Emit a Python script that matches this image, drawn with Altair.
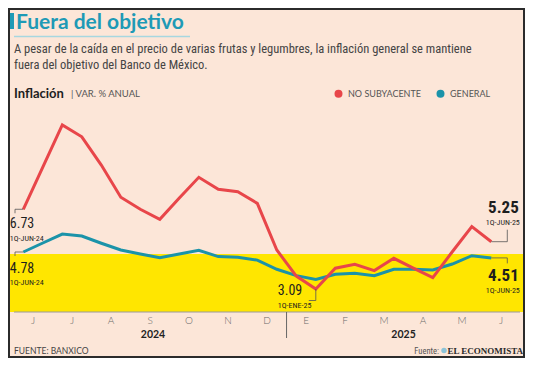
import altair as alt
import pandas as pd

# ---------------- data ----------------
idx = list(range(25))  # quincenas: 1Q-Jun-24 ... 1Q-Jun-25
no_subyacente = [6.73, 8.66, 10.58, 10.04, 8.75, 7.28, 6.73, 6.27, 7.25, 8.19, 7.64, 7.53,
                 7.00, 4.87, 3.68, 3.09, 4.04, 4.22, 3.93, 4.49, 4.04, 3.61, 4.79, 5.94, 5.25]
general = [4.78, 5.19, 5.60, 5.51, 5.18, 4.87, 4.69, 4.52, 4.69, 4.86, 4.57, 4.54,
           4.41, 3.99, 3.70, 3.53, 3.76, 3.81, 3.70, 3.99, 3.99, 3.96, 4.23, 4.61, 4.51]
series_names = ["NO SUBYACENTE", "GENERAL"]
series_colors = ["#E8464A", "#1B93A9"]
month_letters = ["J", "J", "A", "S", "O", "N", "D", "E", "F", "M", "A", "M", "J"]
month_pos = [0.5 + 2 * k for k in range(13)]
years = ["2024", "2025"]
year_pos = [6.65, 19.5]
year_split = 13.5
target_band = [2.04, 4.69]

# ---------------- layout ----------------
W, H = 517, 304
xs = alt.Scale(domain=[-0.785, 25.728], nice=False, zero=False)
ys = alt.Scale(domain=[2.04, 15.92], nice=False, zero=False)
NARROW = "Liberation Sans Narrow, Roboto Condensed, DejaVu Sans Condensed, sans-serif"
SANS = "Lato, sans-serif"
BG = "#FCE6D8"

lines_df = pd.DataFrame({
    "i": idx * 2,
    "v": no_subyacente + general,
    "serie": [series_names[0]] * len(idx) + [series_names[1]] * len(idx),
})

color_enc = alt.Color(
    "serie:N",
    scale=alt.Scale(domain=series_names, range=series_colors),
    legend=alt.Legend(
        orient="none", legendX=326, legendY=81, direction="horizontal", title=None,
        symbolType="circle", symbolSize=16, symbolStrokeWidth=4, padding=0,
        labelFont=SANS, labelFontSize=9, labelColor="#555555", labelOffset=5,
        columnPadding=9,
    ),
)

band = alt.Chart(pd.DataFrame({"lo": [target_band[0]], "hi": [target_band[1]]})).mark_rect(
    color="#FFE600"
).encode(
    y=alt.Y("lo:Q", scale=ys, axis=None), y2="hi:Q", x=alt.value(0), x2=alt.value(W)
)

axis_line = alt.Chart(pd.DataFrame({"lo": [target_band[0]]})).mark_rule(
    color="#9a9a9a", strokeWidth=1
).encode(y=alt.Y("lo:Q", scale=ys, axis=None), x=alt.value(6), x2=alt.value(512))

line_gen = alt.Chart(lines_df[lines_df.serie == series_names[1]]).mark_line(strokeWidth=3).encode(
    x=alt.X("i:Q", scale=xs, axis=None),
    y=alt.Y("v:Q", scale=ys, axis=None),
    color=color_enc,
)
line_ns = alt.Chart(lines_df[lines_df.serie == series_names[0]]).mark_line(strokeWidth=3).encode(
    x=alt.X("i:Q", scale=xs, axis=None),
    y=alt.Y("v:Q", scale=ys, axis=None),
    color=color_enc,
)

months = alt.Chart(pd.DataFrame({"p": month_pos, "m": month_letters})).mark_text(
    font=SANS, fontSize=10, fontWeight=300, color="#6a6a6a", baseline="middle"
).encode(x=alt.X("p:Q", scale=xs, axis=None), y=alt.value(312.7), text="m:N")


def ptext(text, px, py, size, color="#222222", weight="normal", font=SANS, align="left",
          baseline="middle"):
    return alt.Chart(pd.DataFrame({"t": [text]})).mark_text(
        align=align, baseline=baseline, font=font, fontSize=size, fontWeight=weight, color=color
    ).encode(x=alt.value(px), y=alt.value(py), text="t:N")


def ann(text, i, v, dx, dy, size, weight="normal", align="left"):
    return alt.Chart(pd.DataFrame({"i": [i], "v": [v], "t": [text]})).mark_text(
        align=align, baseline="middle", font=NARROW, fontSize=size, fontWeight=weight,
        color="#1e1e1e", dx=dx, dy=dy
    ).encode(x=alt.X("i:Q", scale=xs, axis=None), y=alt.Y("v:Q", scale=ys, axis=None), text="t:N")


def seg(i, v, xo1, xo2, yo1, yo2):
    return alt.Chart(pd.DataFrame({"i": [i], "v": [v]})).mark_rule(
        color="#555555", strokeWidth=0.8, xOffset=xo1, x2Offset=xo2, yOffset=yo1, y2Offset=yo2
    ).encode(x=alt.X("i:Q", scale=xs, axis=None), x2="i:Q",
             y=alt.Y("v:Q", scale=ys, axis=None), y2="v:Q")


layers = [band, axis_line, line_gen, line_ns, months]

# annotations (start, minimum, end)
i0, iE, iN = idx[0], idx[-1], idx[no_subyacente.index(min(no_subyacente))]
layers += [
    seg(i0, no_subyacente[0], -8.3, 0, 0, 0), seg(i0, no_subyacente[0], -8.3, -8.3, 0, 4),
    ann(f"{no_subyacente[0]:.2f}", i0, no_subyacente[0], -13.5, 15, 14),
    ann("1Q-JUN-24", i0, no_subyacente[0], -13.5, 30, 8),
    seg(i0, general[0], -8.3, 0, 0, 0), seg(i0, general[0], -8.3, -8.3, 0, 4),
    ann(f"{general[0]:.2f}", i0, general[0], -13.5, 17, 14),
    ann("1Q-JUN-24", i0, general[0], -13.5, 31, 8),
    seg(iN, no_subyacente[iN], 0, 0, 0, 11.5), seg(iN, no_subyacente[iN], -7, 0, 11.5, 11.5),
    ann(f"{no_subyacente[iN]:.2f}", iN, no_subyacente[iN], -38, 2, 14),
    ann("1Q-ENE-25", iN, no_subyacente[iN], -38, 17, 8),
    seg(iE, no_subyacente[-1], 0, 16, 0, 0), seg(iE, no_subyacente[-1], 16, 16, 0, -12),
    ann(f"{no_subyacente[-1]:.2f}", iE, no_subyacente[-1], 27.5, -34, 17, "bold", "right"),
    ann("1Q-JUN-25", iE, no_subyacente[-1], 28.5, -19, 8, "normal", "right"),
    seg(iE, general[-1], 0, 16, 0, 0), seg(iE, general[-1], 16, 16, 0, 5.5),
    ann(f"{general[-1]:.2f}", iE, general[-1], 27.5, 18, 17, "bold", "right"),
    ann("1Q-JUN-25", iE, general[-1], 28.5, 33, 8, "normal", "right"),
]

# year labels + divider
years_df = pd.DataFrame({"p": year_pos, "y": years})
layers.append(alt.Chart(years_df).mark_text(
    font=SANS, fontSize=10.5, fontWeight="bold", color="#222222", baseline="middle"
).encode(x=alt.X("p:Q", scale=xs, axis=None), y=alt.value(327), text="y:N"))
layers.append(alt.Chart(pd.DataFrame({"p": [year_split]})).mark_rule(
    color="#666666", strokeWidth=1
).encode(x=alt.X("p:Q", scale=xs, axis=None), y=alt.value(H), y2=alt.value(330)))

# header texts
layers += [
    alt.Chart(pd.DataFrame({"a": [0]})).mark_rect(color="#1E9AB6").encode(
        x=alt.value(2), x2=alt.value(6), y=alt.value(5), y2=alt.value(21)),
    ptext("Fuera del objetivo", 8, 21, 21, "#1E9AB6", "bold", baseline="alphabetic"),
    alt.Chart(pd.DataFrame({"a": [0]})).mark_rule(color="#A6D7E0", strokeWidth=1.5).encode(
        x=alt.value(6), x2=alt.value(182), y=alt.value(28.5)),
    ptext("A pesar de la caída en el precio de varias frutas y legumbres, la inflación general se mantiene",
          6, 41, 12.5, "#444444", font=NARROW),
    ptext("fuera del objetivo del Banco de México.", 6, 57, 12.5, "#444444", font=NARROW),
    ptext("Inflación", 6, 85.5, 13, "#1e1e1e", "bold"),
    ptext("|  VAR. % ANUAL", 63, 85.5, 9.5, "#555555"),
    ptext("FUENTE: BANXICO", 6, 342.5, 8.5, "#444444"),
    ptext("Fuente:", 431, 342.5, 8.5, "#555555", font=NARROW, align="right"),
    alt.Chart(pd.DataFrame({"a": [0]})).mark_circle(color="#8CC3D8", size=30, opacity=1).encode(
        x=alt.value(436), y=alt.value(342.5)),
    ptext("EL ECONOMISTA", 515, 342.5, 9, "#2a2a2a", "bold",
          font="Liberation Serif, DejaVu Serif, serif", align="right"),
    alt.Chart(pd.DataFrame({"a": [0]})).mark_rect(
        fillOpacity=0, stroke="#2b2b2b", strokeWidth=2).encode(
        x=alt.value(1), x2=alt.value(W - 1), y=alt.value(1), y2=alt.value(349)),
]

chart = alt.layer(*layers).properties(
    width=W, height=H, autosize="none",
    padding={"left": 0, "top": 0, "right": 0, "bottom": 46},
).configure(background=BG).configure_view(stroke=None)

chart.save("out.html", embed_options={"renderer": "svg", "actions": False})
